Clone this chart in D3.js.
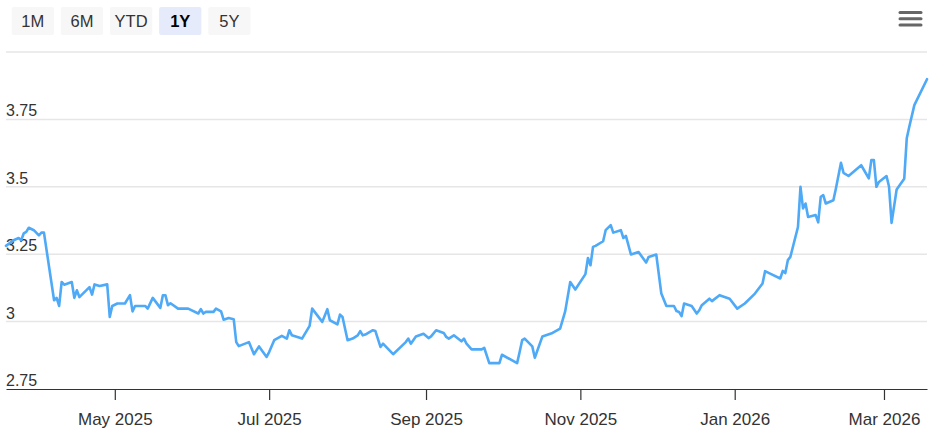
<!DOCTYPE html>
<html>
<head>
<meta charset="utf-8">
<script src="https://cdn.jsdelivr.net/npm/d3@7"></script>
<style>
  html, body { margin: 0; padding: 0; background: #fff; }
  svg { display: block; font-family: "Liberation Sans", Arial, Helvetica, sans-serif; }
</style>
</head>
<body>
<div id="chart"></div>
<script>
// traced points: dates and yields
const dates = [
  "2025-03-19","2025-03-22","2025-03-24","2025-03-25","2025-03-26","2025-03-27","2025-03-28","2025-03-30",
  "2025-04-01","2025-04-02","2025-04-03","2025-04-07","2025-04-08","2025-04-09","2025-04-10","2025-04-11",
  "2025-04-14","2025-04-15","2025-04-16","2025-04-17","2025-04-21","2025-04-22","2025-04-23","2025-04-25",
  "2025-04-28","2025-04-29","2025-04-30","2025-05-02","2025-05-05","2025-05-07","2025-05-08","2025-05-09",
  "2025-05-13","2025-05-14","2025-05-16","2025-05-19","2025-05-20","2025-05-21","2025-05-22","2025-05-23",
  "2025-05-26","2025-05-30","2025-06-03","2025-06-04","2025-06-05","2025-06-06","2025-06-09","2025-06-10",
  "2025-06-12","2025-06-13","2025-06-15","2025-06-17","2025-06-18","2025-06-19","2025-06-23","2025-06-25",
  "2025-06-27","2025-06-30","2025-07-01","2025-07-03","2025-07-06","2025-07-08","2025-07-09","2025-07-10",
  "2025-07-14","2025-07-17","2025-07-18","2025-07-22","2025-07-24","2025-07-25","2025-07-28","2025-07-29",
  "2025-07-30","2025-08-01","2025-08-03","2025-08-05","2025-08-06","2025-08-07","2025-08-08","2025-08-11",
  "2025-08-12","2025-08-14","2025-08-15","2025-08-19","2025-08-24","2025-08-25","2025-08-26","2025-08-28",
  "2025-08-31","2025-09-02","2025-09-03","2025-09-05","2025-09-08","2025-09-09","2025-09-10","2025-09-12",
  "2025-09-15","2025-09-16","2025-09-17","2025-09-19","2025-09-23","2025-09-24","2025-09-26","2025-09-30",
  "2025-10-01","2025-10-07","2025-10-08","2025-10-09","2025-10-10","2025-10-13","2025-10-14","2025-10-17",
  "2025-10-21","2025-10-24","2025-10-26","2025-10-28","2025-10-30","2025-11-03","2025-11-04","2025-11-05",
  "2025-11-06","2025-11-07","2025-11-10","2025-11-11","2025-11-13","2025-11-14","2025-11-17","2025-11-18",
  "2025-11-19","2025-11-21","2025-11-24","2025-11-27","2025-11-28","2025-12-01","2025-12-03","2025-12-05",
  "2025-12-08","2025-12-09","2025-12-10","2025-12-11","2025-12-12","2025-12-15","2025-12-17","2025-12-18",
  "2025-12-19","2025-12-22","2025-12-23","2025-12-26","2025-12-30","2026-01-02","2026-01-05","2026-01-09",
  "2026-01-12","2026-01-13","2026-01-15","2026-01-19","2026-01-20","2026-01-21","2026-01-22","2026-01-23",
  "2026-01-26","2026-01-27","2026-01-28","2026-01-29","2026-01-30","2026-02-02","2026-02-03","2026-02-04",
  "2026-02-05","2026-02-06","2026-02-09","2026-02-10","2026-02-12","2026-02-13","2026-02-15","2026-02-20",
  "2026-02-23","2026-02-24","2026-02-25","2026-02-26","2026-02-27","2026-03-02","2026-03-03","2026-03-04",
  "2026-03-06","2026-03-09","2026-03-10","2026-03-11","2026-03-13","2026-03-18"
]
const yields = [
  3.281,3.302,3.310,3.302,3.327,3.333,3.348,3.339,
  3.320,3.330,3.330,3.079,3.088,3.058,3.147,3.137,
  3.147,3.088,3.116,3.091,3.128,3.100,3.138,3.132,
  3.138,3.017,3.058,3.067,3.067,3.098,3.038,3.058,
  3.058,3.048,3.088,3.051,3.098,3.098,3.061,3.068,
  3.048,3.048,3.030,3.046,3.030,3.036,3.036,3.048,
  3.038,3.007,3.013,3.009,2.924,2.909,2.924,2.879,
  2.908,2.869,2.887,2.931,2.947,2.937,2.968,2.949,
  2.937,2.984,3.048,2.999,3.046,3.005,2.990,3.026,
  3.017,2.931,2.937,2.949,2.965,2.949,2.952,2.968,
  2.965,2.906,2.918,2.879,2.924,2.937,2.918,2.945,
  2.955,2.939,2.945,2.968,2.958,2.943,2.937,2.949,
  2.927,2.937,2.918,2.897,2.897,2.903,2.846,2.846,
  2.877,2.846,2.887,2.931,2.937,2.908,2.866,2.945,
  2.958,2.974,3.038,3.147,3.119,3.176,3.236,3.209,
  3.277,3.281,3.298,3.339,3.358,3.330,3.339,3.310,
  3.318,3.249,3.258,3.219,3.240,3.249,3.104,3.058,
  3.058,3.039,3.036,3.020,3.067,3.058,3.030,3.042,
  3.061,3.085,3.076,3.098,3.085,3.048,3.067,3.104,
  3.141,3.187,3.178,3.160,3.188,3.180,3.228,3.240,
  3.351,3.500,3.420,3.438,3.388,3.395,3.368,3.463,
  3.469,3.438,3.450,3.494,3.589,3.552,3.540,3.580,
  3.531,3.599,3.599,3.500,3.518,3.540,3.500,3.366,
  3.490,3.530,3.680,3.723,3.803,3.899
]
const yTicks = [2.75, 3, 3.25, 3.5, 3.75, 4]
const xTicks = ["2025-05-01","2025-07-01","2025-09-01","2025-11-01","2026-01-01","2026-03-01"]
const ranges = ["1M", "6M", "YTD", "1Y", "5Y"]
const selectedRange = "1Y"

const width = 940, height = 438
const margin = {top: 52, right: 13, bottom: 49, left: 6}

const parse = d3.timeParse("%Y-%m-%d")
const data = dates.map((d, i) => ({ date: parse(d), value: yields[i] }))

const svg = d3.select("#chart").append("svg")
    .attr("width", width)
    .attr("height", height)

const x = d3.scaleTime()
    .domain(d3.extent(data, d => d.date))
    .range([margin.left, width - margin.right])

const y = d3.scaleLinear()
    .domain([2.75, 4])
    .range([height - margin.bottom, margin.top])

// gridlines
svg.append("g")
    .selectAll("line")
    .data(yTicks.slice(1))
    .enter()
    .append("line")
    .attr("x1", margin.left)
    .attr("x2", width - margin.right)
    .attr("y1", d => y(d))
    .attr("y2", d => y(d))
    .attr("stroke", "#e6e6e6")
    .attr("stroke-width", 1.5)

// y labels (left aligned, above gridline, last one hidden)
svg.append("g")
    .selectAll("text")
    .data(yTicks.slice(0, -1))
    .enter()
    .append("text")
    .attr("x", margin.left)
    .attr("y", d => y(d) - 3)
    .attr("font-size", 16)
    .attr("fill", "#333")
    .text(d => d3.format("")(d))

// x axis
const axeX = d3.axisBottom(x)
    .tickValues(xTicks.map(parse))
    .tickFormat(d3.timeFormat("%b %Y"))
    .tickSize(11)
    .tickSizeOuter(0)
    .tickPadding(13)

const groupX = svg.append("g")
    .attr("transform", `translate(0,${height - margin.bottom})`)
    .call(axeX)
groupX.select(".domain").attr("stroke", "#333").attr("stroke-width", 1.2)
groupX.selectAll(".tick line").attr("stroke", "#333").attr("stroke-width", 1.2)
groupX.selectAll(".tick text")
    .attr("font-size", 17)
    .attr("fill", "#333")
    .attr("font-family", "\"Liberation Sans\", Arial, sans-serif")

// the line
const line = d3.line()
    .x(d => x(d.date))
    .y(d => y(d.value))

svg.append("path")
    .datum(data)
    .attr("fill", "none")
    .attr("stroke", "#4ea9f7")
    .attr("stroke-width", 2.6)
    .attr("stroke-linejoin", "round")
    .attr("stroke-linecap", "round")
    .attr("d", line)

// range buttons
const btn = d3.scaleBand()
    .domain(ranges)
    .range([11.7, 250.5])
    .paddingInner(0.14)

const buttons = svg.append("g")
    .selectAll("g")
    .data(ranges)
    .enter()
    .append("g")
    .attr("transform", d => `translate(${btn(d)},7)`)

buttons.append("rect")
    .attr("width", btn.bandwidth())
    .attr("height", 28)
    .attr("rx", 2)
    .attr("fill", d => d === selectedRange ? "#e6ebfc" : "#f7f7f7")

buttons.append("text")
    .attr("x", btn.bandwidth() / 2)
    .attr("y", 20)
    .attr("text-anchor", "middle")
    .attr("font-size", 16.5)
    .attr("font-weight", d => d === selectedRange ? "bold" : "normal")
    .attr("fill", d => d === selectedRange ? "#000" : "#333")
    .text(d => d)

// menu icon
svg.append("g")
    .selectAll("line")
    .data([12.5, 18.8, 25])
    .enter()
    .append("line")
    .attr("x1", 900)
    .attr("x2", 921)
    .attr("y1", d => d)
    .attr("y2", d => d)
    .attr("stroke", "#666")
    .attr("stroke-width", 3)
    .attr("stroke-linecap", "round")
</script>
</body>
</html>
